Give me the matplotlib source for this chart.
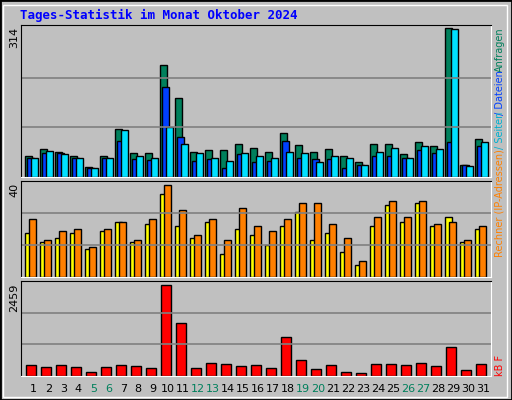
import numpy as np
import matplotlib.pyplot as plt

days = list(range(1, 32))
weekend = [5, 6, 12, 13, 19, 20, 26, 27]
anfragen = [45, 58, 52, 45, 22, 45, 101, 50, 50, 237, 167, 52, 56, 56, 69, 62,
            52, 92, 67, 52, 60, 45, 31, 69, 69, 48, 73, 65, 314, 26, 80]
dateien = [41, 50, 50, 39, 18, 39, 75, 37, 35, 190, 84, 33, 37, 20, 48, 31,
           33, 75, 41, 37, 37, 18, 26, 45, 45, 39, 56, 50, 73, 26, 65]
seiten = [39, 54, 48, 39, 20, 39, 99, 45, 39, 105, 69, 50, 39, 33, 50, 45,
          39, 52, 50, 31, 45, 39, 26, 52, 62, 39, 65, 60, 312, 24, 73]
besuche = [19, 15, 17, 19, 12, 20, 24, 15, 23, 36, 22, 17, 24, 10, 21, 18,
           14, 22, 28, 16, 19, 11, 5, 22, 31, 24, 32, 22, 26, 15, 21]
rechner = [25, 16, 20, 21, 13, 21, 24, 16, 25, 40, 29, 18, 25, 16, 30, 22,
           20, 25, 32, 32, 23, 17, 7, 26, 33, 26, 33, 23, 24, 16, 22]
kbytes = [305, 251, 305, 251, 117, 251, 305, 278, 224, 2459, 1435, 224, 359,
          332, 278, 305, 224, 1058, 440, 197, 305, 117, 90, 332, 332, 305, 359,
          278, 790, 170, 332]

BG = '#c0c0c0'
W, H = 512, 400
fig = plt.figure(figsize=(W / 100, H / 100), dpi=100, facecolor=BG)

# outer frame
fig.patches.append(plt.Rectangle((0, 0), 1, 1, transform=fig.transFigure,
                                 fill=False, ec='black', lw=2))
fig.patches.append(plt.Rectangle((3 / W, 3 / H), 1 - 8 / W, 1 - 8 / H,
                                 transform=fig.transFigure, fill=False, ec='white', lw=1))

def make_ax(top, bottom):
    ax = fig.add_axes([20.7 / W, 1 - bottom / H, 470 / W, (bottom - top) / H])
    ax.set_facecolor(BG)
    ax.set_xlim(-0.31, 31.02)
    ax.set_xticks([])
    ax.set_yticks([])
    for s in ['top', 'left']:
        ax.spines[s].set_color('black')
    for s in ['bottom', 'right']:
        ax.spines[s].set_color('white')
    return ax

x = np.array(days) - 1.0
kw = dict(align='edge', edgecolor='black', linewidth=1)

ax1 = make_ax(25, 177)
ax1.set_ylim(0, max(anfragen) * 1.02)
for g in [1 / 3, 2 / 3]:
    ax1.axhline(max(anfragen) * g * 1.02 * 0.98, color='#808080', lw=1.2)
ax1.bar(x, anfragen, width=0.47, color='#00805c', **kw)
ax1.bar(x + 0.13, dateien, width=0.47, color='#0040ff', **kw)
ax1.bar(x + 0.4, seiten, width=0.47, color='#00e0ff', **kw)

ax2 = make_ax(181, 277)
ax2.set_ylim(0, max(rechner) * 1.04)
for g in [1 / 3, 2 / 3]:
    ax2.axhline(max(rechner) * 1.04 * g, color='#808080', lw=1.2)
ax2.bar(x, besuche, width=0.47, color='#ffff00', **kw)
ax2.bar(x + 0.27, rechner, width=0.47, color='#ff8000', **kw)

ax3 = make_ax(281, 376)
ax3.set_ylim(0, max(kbytes) * 1.04)
for g in [1 / 3, 2 / 3]:
    ax3.axhline(max(kbytes) * 1.04 * g, color='#808080', lw=1.2)
ax3.bar(x + 0.07, kbytes, width=0.67, color='#ff0000', **kw)

for d in days:
    fig.text((20.7 + 4.6 + (d - 1) * 15 + 8) / W, 1 - 389 / H, str(d),
             ha='center', va='center', fontsize=8,
             color='#00805c' if d in weekend else 'black')

fig.text(20 / W, 1 - 15 / H, 'Tages-Statistik im Monat Oktober 2024',
         color='#0000ff', fontsize=9, fontweight='bold', family='DejaVu Sans Mono',
         va='center')

for val, ytop in [(max(anfragen), 27), (max(rechner), 183), (max(kbytes), 284)]:
    fig.text(14 / W, 1 - ytop / H, str(val), rotation=90, ha='center', va='top',
             fontsize=8)

# right legends
fs = 7
fig.text(500 / W, 1 - 27 / H, 'Anfragen', rotation=90, ha='center', va='top',
         color='#00805c', fontsize=fs)
fig.text(500 / W, 1 - 70 / H, '/ Dateien', rotation=90, ha='center', va='top',
         color='#0040ff', fontsize=fs)
fig.text(500 / W, 1 - 112 / H, '/ Seiten', rotation=90, ha='center', va='top',
         color='#00b0d0', fontsize=fs)
fig.text(500 / W, 1 - 257 / H, 'Rechner (IP-Adressen)', rotation=90,
         ha='center', va='bottom', color='#ff8000', fontsize=fs)
fig.text(500 / W, 1 - 376 / H, 'kB F', rotation=90, ha='center', va='bottom',
         color='#ff0000', fontsize=fs)

fig.savefig('out.png', dpi=100, facecolor=BG)
